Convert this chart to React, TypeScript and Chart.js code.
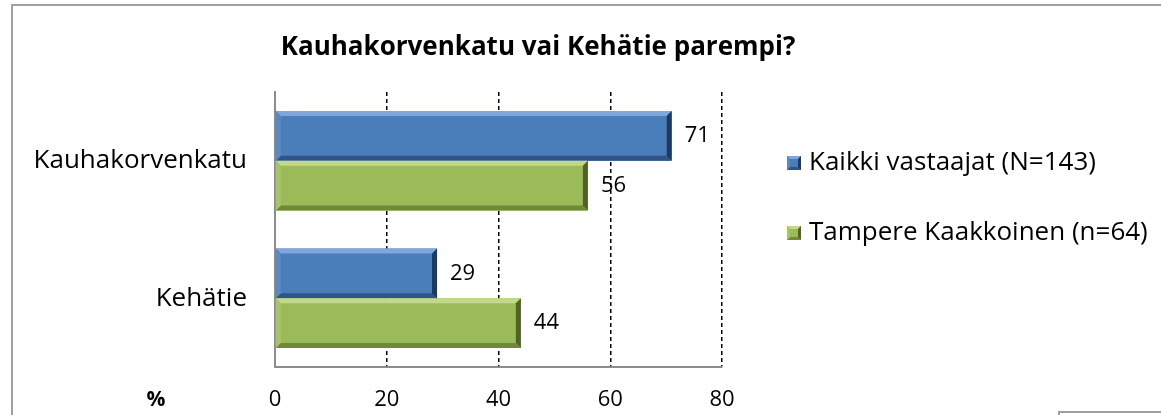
import React, { useEffect, useRef } from 'react';
import { Chart, registerables } from 'chart.js';

Chart.register(...registerables);

const chartTitle = 'Kauhakorvenkatu vai Kehätie parempi?';
const categories = ['Kauhakorvenkatu', 'Kehätie'];
const seriesNames = ['Kaikki vastaajat (N=143)', 'Tampere Kaakkoinen (n=64)'];
const allRespondents = [71, 29];
const tampereSoutheast = [56, 44];
const xTickValues = [0, 20, 40, 60, 80];
const axisUnitLabel = '%';

const FONT = "'Open Sans', sans-serif";

const palettes = [
  { face: '#4a7ebb', top: '#7fa7da', left: '#5c88c2', bottom: '#2f5488', right: '#1f3a60' },
  { face: '#9bbb59', top: '#c2d98c', left: '#a6c468', bottom: '#6e8a39', right: '#4e6527' },
];

function poly(ctx: CanvasRenderingContext2D, pts: number[][], color: string) {
  ctx.beginPath();
  ctx.moveTo(pts[0][0], pts[0][1]);
  for (let i = 1; i < pts.length; i++) ctx.lineTo(pts[i][0], pts[i][1]);
  ctx.closePath();
  ctx.fillStyle = color;
  ctx.fill();
}

function bevelRect(ctx: CanvasRenderingContext2D, l: number, t: number, r: number, b: number, bv: number, pal: any) {
  poly(ctx, [[l, t], [r, t], [r - bv, t + bv], [l + bv, t + bv]], pal.top);
  poly(ctx, [[l, b], [r, b], [r - bv, b - bv], [l + bv, b - bv]], pal.bottom);
  poly(ctx, [[l, t], [l + bv, t + bv], [l + bv, b - bv], [l, b]], pal.left);
  poly(ctx, [[r, t], [r - bv, t + bv], [r - bv, b - bv], [r, b]], pal.right);
}

const decorPlugin = {
  id: 'decor',
  afterDatasetsDraw(chart: any) {
    const ctx: CanvasRenderingContext2D = chart.ctx;
    ctx.save();
    chart.data.datasets.forEach((ds: any, di: number) => {
      const meta = chart.getDatasetMeta(di);
      const pal = palettes[di];
      meta.data.forEach((el: any, i: number) => {
        const { x, y, base, height } = el.getProps(['x', 'y', 'base', 'height'], true);
        const l = Math.min(base, x);
        const r = Math.max(base, x);
        const t = y - height / 2;
        const b = y + height / 2;
        const bv = Math.min(5, (r - l) / 2, height / 2);
        bevelRect(ctx, l, t, r, b, bv, pal);
        ctx.fillStyle = '#000';
        ctx.font = `22px ${FONT}`;
        ctx.textAlign = 'left';
        ctx.textBaseline = 'middle';
        ctx.fillText(String(ds.data[i]), r + 13, y);
      });
    });
    ctx.restore();
  },
  afterDraw(chart: any) {
    const ctx: CanvasRenderingContext2D = chart.ctx;
    const area = chart.chartArea;
    ctx.save();
    // title
    ctx.fillStyle = '#000';
    ctx.font = `bold 26px ${FONT}`;
    ctx.textAlign = 'center';
    ctx.textBaseline = 'middle';
    ctx.fillText(chartTitle, 538, 48);
    // unit label on the tick row
    ctx.font = `bold 21px ${FONT}`;
    ctx.fillText(axisUnitLabel, 156, area.bottom + 33);
    // legend
    const legendRows = [area.top + 71, area.top + 141];
    seriesNames.forEach((name, i) => {
      const cy = legendRows[i];
      const pal = palettes[i];
      const s = 14;
      const bx = 787;
      ctx.fillStyle = pal.face;
      ctx.fillRect(bx, cy - s / 2, s, s);
      bevelRect(ctx, bx, cy - s / 2, bx + s, cy + s / 2, 3, pal);
      ctx.fillStyle = '#000';
      ctx.font = `26px ${FONT}`;
      ctx.textAlign = 'left';
      ctx.textBaseline = 'middle';
      ctx.fillText(name, 809, cy);
    });
    ctx.restore();
  },
};

export default function App() {
  const canvasRef = useRef<HTMLCanvasElement | null>(null);

  useEffect(() => {
    if (!canvasRef.current) return;
    const chart = new Chart(canvasRef.current, {
      type: 'bar',
      data: {
        labels: categories,
        datasets: [
          {
            label: seriesNames[0],
            data: allRespondents,
            backgroundColor: palettes[0].face,
            borderWidth: 0,
            categoryPercentage: 0.725,
            barPercentage: 1,
          },
          {
            label: seriesNames[1],
            data: tampereSoutheast,
            backgroundColor: palettes[1].face,
            borderWidth: 0,
            categoryPercentage: 0.725,
            barPercentage: 1,
          },
        ],
      },
      options: {
        indexAxis: 'y',
        responsive: false,
        animation: false,
        layout: { padding: { top: 92, right: 439, bottom: 0, left: 0 } },
        plugins: {
          legend: { display: false },
          title: { display: false },
          tooltip: { enabled: false },
        },
        scales: {
          x: {
            type: 'linear',
            min: 0,
            max: 80,
            afterBuildTicks: (scale: any) => {
              scale.ticks = xTickValues.map((v) => ({ value: v }));
            },
            afterFit: (scale: any) => {
              scale.height = 48;
            },
            grid: {
              drawTicks: false,
              lineWidth: 1.5,
              color: (c: any) => (c.tick && c.tick.value === 0 ? 'rgba(0,0,0,0)' : '#000'),
            },
            border: { display: true, color: '#8c8c8c', width: 2, dash: [4, 3] },
            ticks: {
              color: '#000',
              padding: 20,
              font: { family: FONT, size: 22 },
            },
          },
          y: {
            type: 'category',
            afterFit: (scale: any) => {
              scale.width = 275;
            },
            grid: { display: false, drawTicks: false },
            border: { display: true, color: '#8c8c8c', width: 2 },
            ticks: {
              color: '#000',
              padding: 28,
              font: { family: FONT, size: 26 },
            },
          },
        },
      },
      plugins: [decorPlugin],
    } as any);
    return () => chart.destroy();
  }, []);

  return (
    <div style={{ position: 'fixed', left: 0, top: 0, width: 1161, height: 415, background: '#fff', overflow: 'hidden' }}>
      <div
        style={{
          position: 'absolute',
          left: 11,
          top: 4,
          width: 1200,
          height: 500,
          borderLeft: '2px solid #a0a0a0',
          borderTop: '2px solid #a0a0a0',
        }}
      />
      <div
        style={{
          position: 'absolute',
          left: 1058,
          top: 411,
          width: 200,
          height: 20,
          borderLeft: '2px solid #a0a0a0',
          borderTop: '2px solid #a0a0a0',
        }}
      />
      <canvas ref={canvasRef} width={1161} height={415} style={{ position: 'absolute', left: 0, top: 0 }} />
    </div>
  );
}
